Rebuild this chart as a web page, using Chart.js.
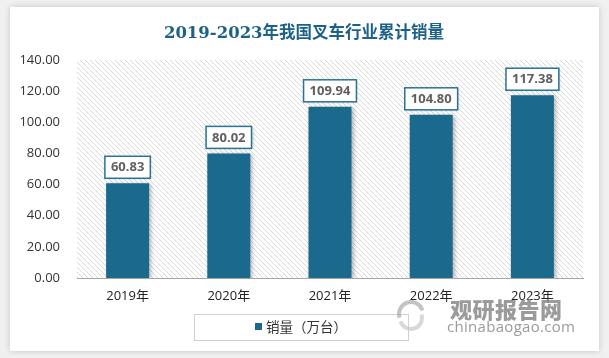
<!DOCTYPE html>
<html><head><meta charset="utf-8">
<script src="https://cdn.jsdelivr.net/npm/chart.js@4.4.0/dist/chart.umd.min.js"></script>
<style>
html,body{margin:0;padding:0;background:#f0f0f0;width:609px;height:358px;overflow:hidden;}
#card{position:absolute;left:10px;top:7px;width:589px;height:344px;background:#fff;box-shadow:0 0 6px rgba(0,0,0,0.18);}
#wrap{position:absolute;left:0;top:0;width:609px;height:358px;}
.wm{position:absolute;color:rgba(130,130,130,0.8);font-family:'Noto Sans CJK SC',sans-serif;white-space:nowrap;}
#logo{position:absolute;left:394px;top:300px;}
</style></head>
<body>
<div id="card"></div>
<div id="wrap"><canvas id="c" width="609" height="358"></canvas></div>
<canvas id="logo" width="34" height="32"></canvas>
<div class="wm" style="left:450px;top:292px;font-size:22px;font-weight:900;letter-spacing:0.5px;">观研报告网</div>
<div class="wm" style="left:447px;top:316px;font-size:15px;font-family:'Open Sans',sans-serif;letter-spacing:0.3px;">chinabaogao.com</div>
<script>
const titleText = '2019-2023年我国叉车行业累计销量';
const categories = ['2019年','2020年','2021年','2022年','2023年'];
const sales = [60.83, 80.02, 109.94, 104.80, 117.38];
const seriesName = '销量（万台）';
const yTicksMin = 0, yTicksMax = 140, yTicksStep = 20;

const BAR = '#1b6a8e';
const TEAL_BORDER = '#2a7396';

// decorative watermark swirl
(function(){
  const g = document.getElementById('logo').getContext('2d');
  g.strokeStyle = 'rgba(170,170,170,0.7)'; g.lineWidth = 4;
  g.beginPath(); g.arc(17,14,12,Math.PI*0.9,Math.PI*1.9); g.stroke();
  g.strokeStyle = 'rgba(200,200,200,0.7)';
  g.beginPath(); g.arc(17,18,11,Math.PI*-0.1,Math.PI*0.9); g.stroke();
})();

function makePattern(){
  const p = document.createElement('canvas');
  p.width = 5; p.height = 5;
  const g = p.getContext('2d');
  g.fillStyle = '#ffffff'; g.fillRect(0,0,5,5);
  g.strokeStyle = '#d9d9d9'; g.lineWidth = 1;
  g.beginPath();
  g.moveTo(0,0); g.lineTo(5,5);
  g.moveTo(-1,4); g.lineTo(1,6);
  g.moveTo(4,-1); g.lineTo(6,1);
  g.stroke();
  return p;
}

const deco = {
  id:'deco',
  beforeDraw(chart){
    const {ctx, chartArea:a} = chart;
    ctx.save();
    ctx.fillStyle = ctx.createPattern(makePattern(),'repeat');
    ctx.fillRect(a.left, a.top, a.right-a.left, a.bottom-a.top);
    ctx.restore();
  },
  beforeDatasetsDraw(chart){
    const ctx = chart.ctx;
    ctx.save();
    ctx.shadowColor = 'rgba(0,0,0,0.28)';
    ctx.shadowBlur = 4; ctx.shadowOffsetX = 2; ctx.shadowOffsetY = 1;
  },
  afterDatasetsDraw(chart){
    const ctx = chart.ctx;
    ctx.restore();
    const meta = chart.getDatasetMeta(0);
    ctx.save();
    ctx.font = 'bold 13px "Open Sans", sans-serif';
    ctx.textAlign = 'center'; ctx.textBaseline = 'middle';
    meta.data.forEach((el,i)=>{
      const txt = sales[i].toFixed(2);
      const w = ctx.measureText(txt).width + 12;
      const h = 22;
      const x = el.x - w/2, yb = el.y - 5;
      ctx.save();
      ctx.shadowColor='rgba(0,0,0,0.2)'; ctx.shadowBlur=3; ctx.shadowOffsetX=1; ctx.shadowOffsetY=1;
      ctx.fillStyle='#fff'; ctx.fillRect(x, yb-h, w, h);
      ctx.restore();
      ctx.strokeStyle = TEAL_BORDER; ctx.lineWidth = 1.5;
      ctx.strokeRect(x, yb-h, w, h);
      ctx.fillStyle = '#5f5f5f';
      ctx.fillText(txt, el.x, yb-h/2+0.5);
    });
    ctx.restore();
  },
  afterDraw(chart){
    const ctx = chart.ctx;
    ctx.save();
    ctx.font = 'bold 16.5px "DejaVu Serif", "Noto Sans CJK SC", serif';
    ctx.fillStyle = '#1d6286';
    ctx.textAlign='center'; ctx.textBaseline='middle';
    ctx.fillText(titleText, 304, 34);
    ctx.strokeStyle = '#d0d0d0'; ctx.lineWidth = 1;
    ctx.strokeRect(194.5, 314.5, 214, 26);
    ctx.fillStyle = BAR;
    ctx.fillRect(255, 323, 7, 7);
    ctx.font = '13.5px "Noto Sans CJK SC", sans-serif';
    ctx.fillStyle = '#333';
    ctx.textAlign='left';
    ctx.fillText(seriesName, 266, 327);
    ctx.restore();
  }
};

new Chart(document.getElementById('c'), {
  type:'bar',
  data:{ labels: categories, datasets:[{ label: seriesName, data: sales, backgroundColor: BAR, borderWidth:0,
    categoryPercentage:1.0, barPercentage:0.425 }]},
  options:{
    responsive:false, animation:false, devicePixelRatio:1,
    layout:{ padding:{ left:10, right:26, top:60, bottom:50 } },
    plugins:{ legend:{display:false}, title:{display:false}, tooltip:{enabled:false} },
    scales:{
      x:{
        grid:{display:false, drawTicks:false},
        border:{display:true, color:'#a6a6a6', width:1},
        ticks:{ color:'#222', padding:10, font:{size:13, family:'"Open Sans","Noto Sans CJK SC",sans-serif'} },
        afterFit(s){ s.height = 30; }
      },
      y:{
        min:yTicksMin, max:yTicksMax,
        grid:{display:false, drawTicks:false},
        border:{display:false},
        ticks:{ stepSize:yTicksStep, padding:17, color:'#333',
          font:{size:13, family:'"Open Sans",sans-serif'},
          callback:(v)=>Number(v).toFixed(2) },
        afterFit(s){ s.width = 67; }
      }
    }
  },
  plugins:[deco]
});
</script>
</body></html>
